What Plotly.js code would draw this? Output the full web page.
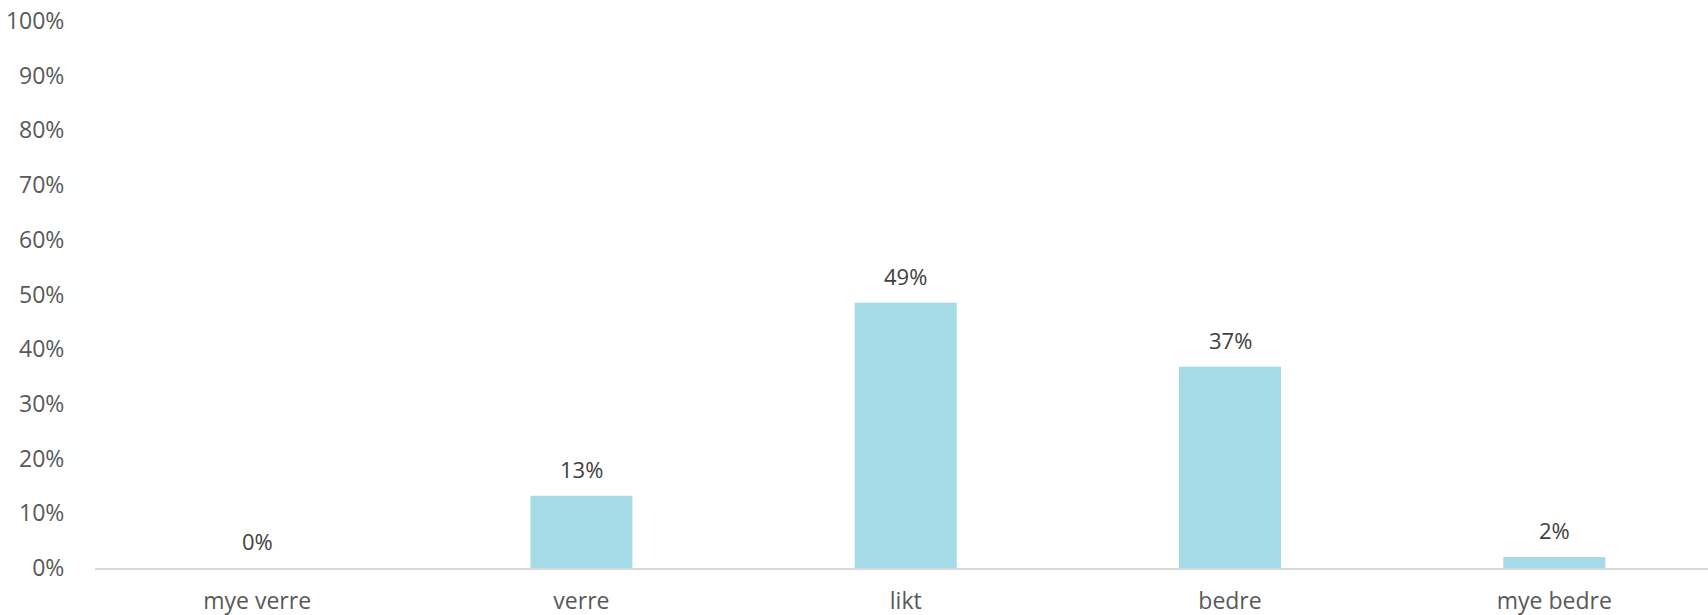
<!DOCTYPE html>
<html>
<head>
<meta charset="utf-8">
<script src="https://cdn.plot.ly/plotly-3.0.1.min.js"></script>
<style>html,body{margin:0;padding:0;background:#fff;}#chart{width:1708px;height:615px;}</style>
</head>
<body>
<div id="chart"></div>
<script>
const categories = ["mye verre", "verre", "likt", "bedre", "mye bedre"];
const values = [0.0, 0.132, 0.485, 0.368, 0.02];
const labels = ["0%", "13%", "49%", "37%", "2%"];
const yTickVals = [0, 0.1, 0.2, 0.3, 0.4, 0.5, 0.6, 0.7, 0.8, 0.9, 1.0];
const yTickText = ["0%", "10%", "20%", "30%", "40%", "50%", "60%", "70%", "80%", "90%", "100%"];

const FONT = "Open Sans, Lato, sans-serif";

const trace = {
  type: "bar",
  x: categories,
  y: values,
  marker: {color: "#A5DBE7"},
  hoverinfo: "skip"
};

const annotations = categories.map((c, i) => ({
  x: c, y: values[i], xref: "x", yref: "y",
  text: labels[i], showarrow: false,
  yanchor: "middle", yshift: 27,
  font: {family: FONT, size: 22, color: "#404040"}
}));

const layout = {
  width: 1708, height: 615,
  margin: {l: 95, r: 0, t: 21, b: 47},
  paper_bgcolor: "#ffffff", plot_bgcolor: "#ffffff",
  bargap: 0.6855,
  showlegend: false,
  xaxis: {
    type: "category",
    range: [-0.5, 4.474],
    showline: true, linecolor: "#D9D9D9", linewidth: 2,
    showgrid: false, zeroline: false,
    ticks: "outside", ticklen: 11, tickcolor: "rgba(0,0,0,0)",
    tickfont: {family: FONT, size: 23, color: "#595959"}
  },
  yaxis: {
    range: [0, 1.0], tickvals: yTickVals, ticktext: yTickText,
    showgrid: false, zeroline: false, showline: false,
    ticks: "outside", ticklen: 25, tickcolor: "rgba(0,0,0,0)",
    tickfont: {family: FONT, size: 23, color: "#595959"}
  },
  annotations: annotations
};

Plotly.newPlot("chart", [trace], layout, {displayModeBar: false, staticPlot: true});
</script>
</body>
</html>
